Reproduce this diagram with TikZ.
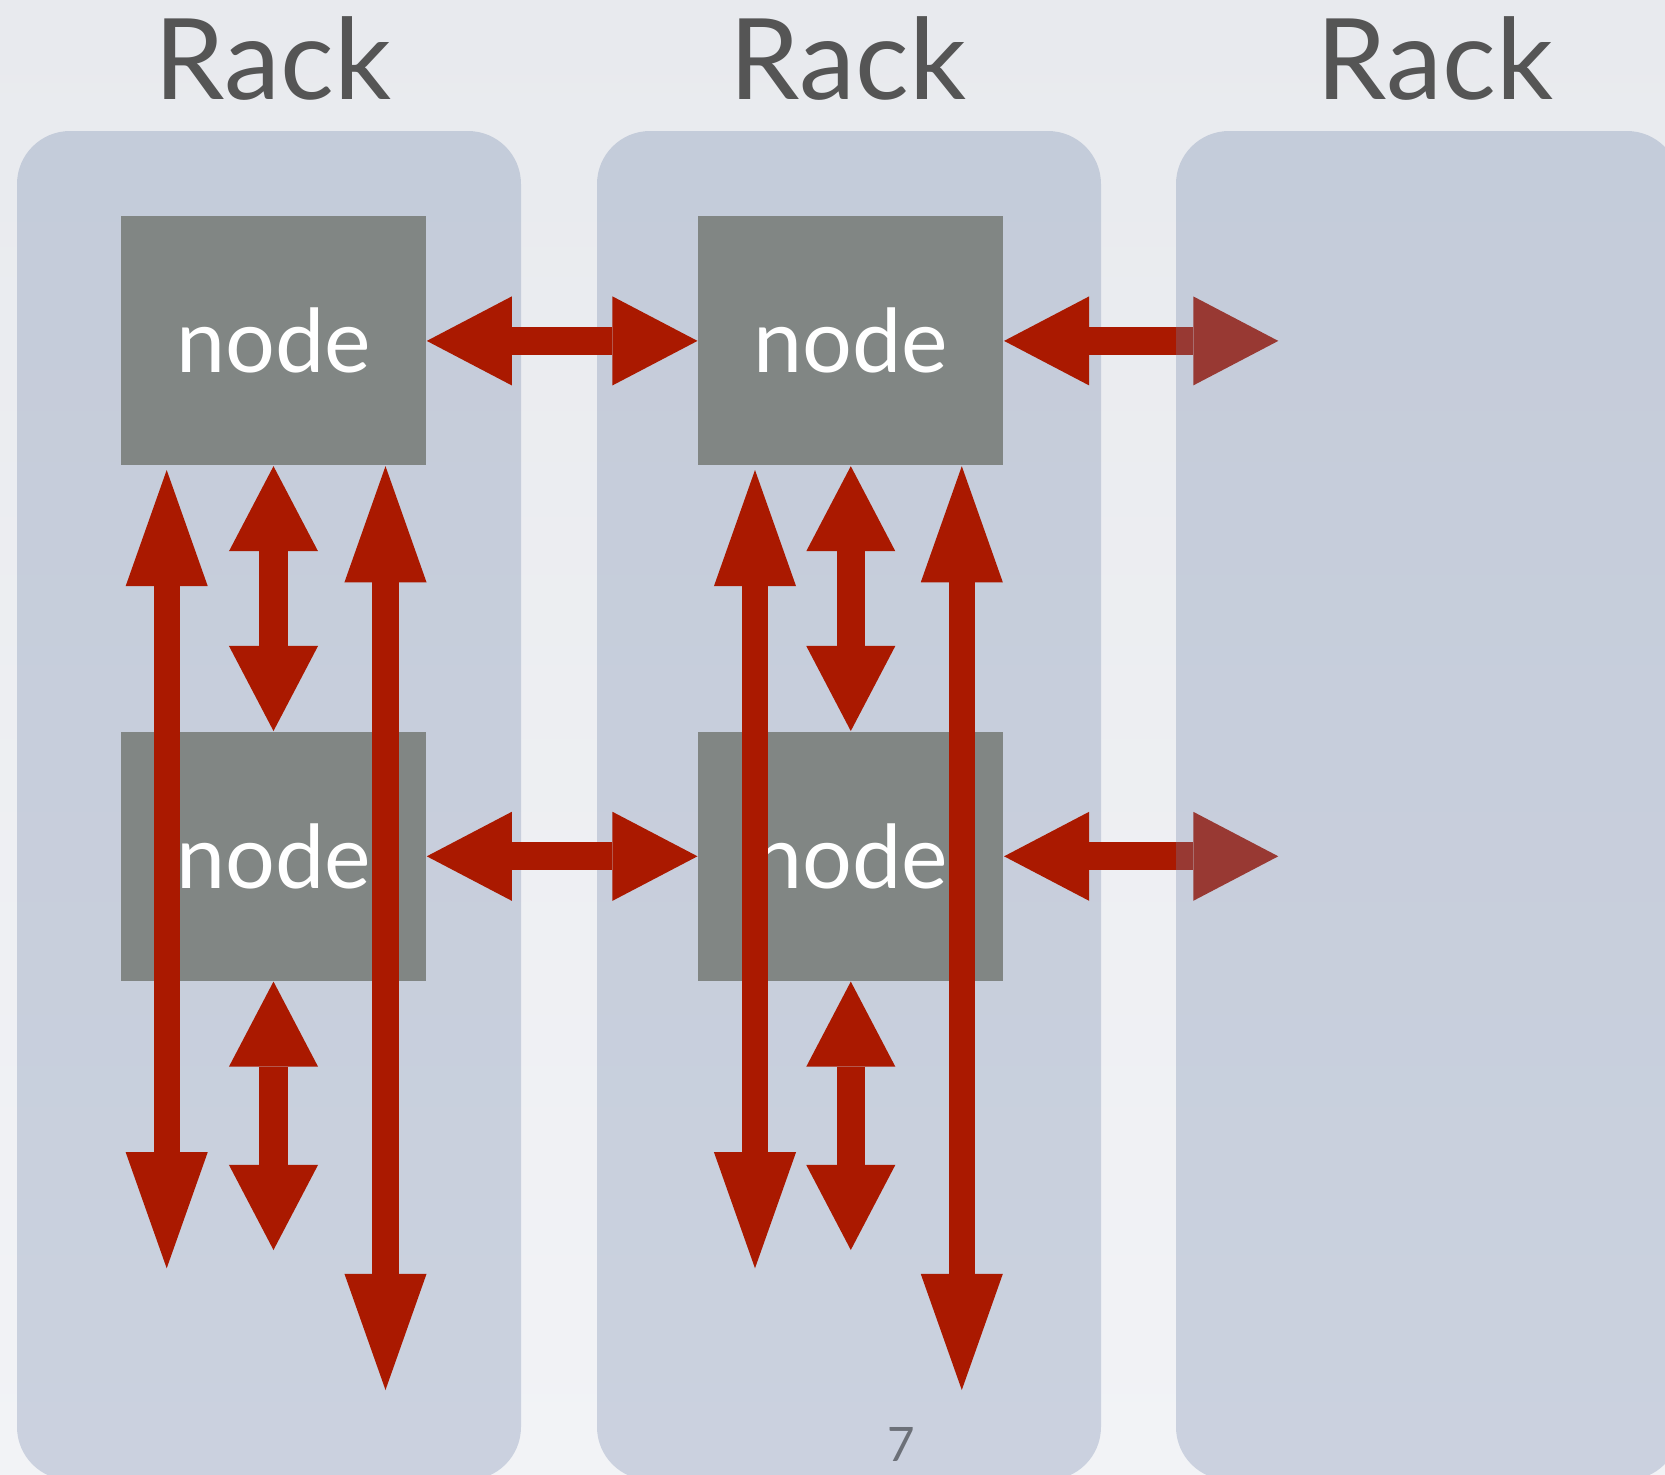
\documentclass[tikz,border=0pt]{standalone}
\usepackage{fontspec}
\setmainfont{Lato}
\usetikzlibrary{arrows.meta}

\definecolor{slidetop}{RGB}{232,234,238}
\definecolor{slidebot}{RGB}{242,243,246}
\definecolor{rackblue}{RGB}{113,133,170}
\definecolor{boxgrey}{RGB}{129,134,132}
\definecolor{linkred}{RGB}{170,25,0}
\definecolor{labelgrey}{RGB}{85,85,85}
\definecolor{pagegrey}{RGB}{108,112,120}

\tikzset{
  rack/.style={fill=rackblue,fill opacity=0.3,rounded corners=0.53cm},
  server/.style={fill=boxgrey,minimum width=3.05cm,minimum height=2.49cm,inner sep=0pt,text=white,font=\fontsize{25}{30}\selectfont},
  link/.style={draw=linkred,line width=0.28cm,{Triangle[length=0.85cm,width=0.89cm,line width=0pt]}-{Triangle[length=0.85cm,width=0.89cm,line width=0pt]}},
  longlink/.style={draw=linkred,line width=0.26cm,{Triangle[length=1.16cm,width=0.82cm,line width=0pt]}-{Triangle[length=1.16cm,width=0.82cm,line width=0pt]}},
  racklabel/.style={anchor=base,inner sep=0pt,text=labelgrey,font=\fontsize{32}{38}\selectfont},
  pagenum/.style={anchor=base,inner sep=0pt,text=pagegrey,font=\fontsize{13.5}{16}\selectfont}
}

\begin{document}
\begin{tikzpicture}[x=0.01cm,y=-0.01cm]
	\path[use as bounding box] (0,0) rectangle (1665,1475);
	\clip (0,0) rectangle (1665,1475);
  \shade[top color=slidetop,bottom color=slidebot] (0,0) rectangle (1665,1475);

  \foreach \x in {17,597} \fill[rack] (\x,131) rectangle +(504,1349);

	\foreach \r/\x in {a/273.5,b/850.8}{
	  \node[server] (\r1) at (\x,340.9){node};
	  \node[server] (\r2) at (\x,856.3){node};
	  \coordinate (\r3) at (\x,1250);
	}
  \coordinate (atop) at (166.7,470);
  \coordinate (abot) at (166.7,1268.3);
  \coordinate (btop) at (755,470);
  \coordinate (bbot) at (755,1268.3);
  \coordinate (along) at (385.5,1390);
  \coordinate (blong) at (961.8,1390);
  \coordinate (c1) at (1278.3,340.9);
  \coordinate (c2) at (1278.3,856.3);

  \foreach \r in {a,b}{
	  \draw[link] (\r1.south) -- (\r2.north);
	  \draw[link] (\r2.south) -- (\r3);
	  \draw[longlink] (\r top) -- (\r bot);
	  \draw[longlink] (\r1.south -| \r long) -- (\r long);
  }

	\draw[link] (a1.east) -- (b1.west);
	\draw[link] (a2.east) -- (b2.west);
	\draw[link] (b1.east) -- (c1);
	\draw[link] (b2.east) -- (c2);

  \fill[rack] (1176,131) rectangle +(504,1349);

  \foreach \x/\n in {273/ra,848/rb,1435/rc} \node[racklabel] (\n) at (\x,99){Rack};
  \node[pagenum] (page) at (901,1461){7};

\end{tikzpicture}
\end{document}
